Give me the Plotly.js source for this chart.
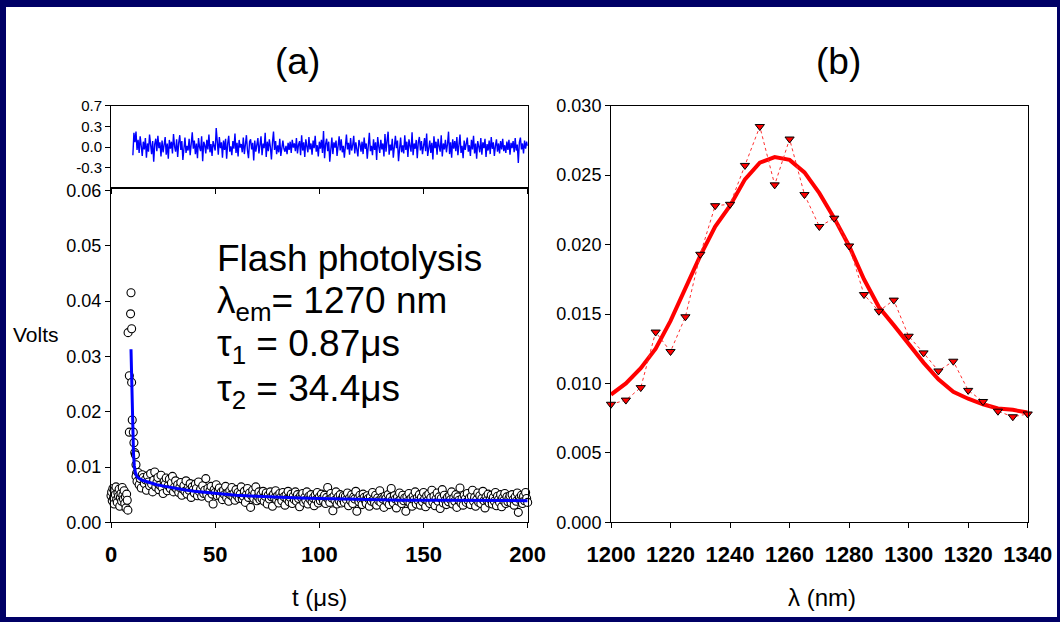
<!DOCTYPE html>
<html>
<head>
<meta charset="utf-8">
<script src="https://cdn.plot.ly/plotly-3.0.1.min.js"></script>
<style>html,body{margin:0;padding:0;background:#000066;}#chart{width:1060px;height:622px;}</style>
</head>
<body>
<div id="chart"></div>
<script>
// ---------- Panel (a): residuals ----------
const residStart = 10.5;   // µs, first residual sample
const residStep = 0.5;     // µs between residual samples
const residuals = [
-0.14,0.24,0.08,0.26,-0.05,0.12,-0.10,0.18,0.02,-0.15,0.09,-0.04,0.15,-0.18,0.06,-0.08,0.21,0.00,-0.12,0.10,
-0.25,0.05,0.14,-0.07,0.19,-0.02,0.08,-0.16,0.11,-0.09,0.03,0.17,-0.13,0.06,-0.20,0.12,-0.03,0.09,-0.11,0.22,
0.01,-0.08,0.13,-0.17,0.07,0.20,-0.05,0.10,-0.22,0.04,0.16,-0.10,0.02,-0.06,0.14,-0.14,0.08,0.25,-0.03,0.11,
-0.12,0.06,-0.19,0.15,0.00,-0.07,0.18,-0.24,0.09,0.03,-0.11,0.12,-0.04,0.21,-0.09,0.05,-0.15,0.10,0.02,-0.06,
0.32,0.04,-0.13,0.17,-0.02,0.08,-0.18,0.11,-0.05,0.14,-0.20,0.06,0.19,-0.08,0.01,-0.14,0.10,-0.03,0.23,-0.10,
0.07,-0.16,0.12,-0.01,0.05,-0.09,0.16,-0.12,0.03,0.20,-0.06,-0.19,0.09,0.13,-0.04,0.07,-0.23,0.11,-0.08,0.04,
0.15,-0.11,0.02,0.18,-0.14,0.06,-0.02,0.24,-0.17,0.09,-0.07,0.13,0.00,-0.21,0.08,0.26,-0.05,0.10,-0.12,0.03,
-0.09,0.14,-0.15,0.05,0.11,-0.03,-0.08,0.02,-0.12,0.07,-0.05,0.09,-0.10,0.12,-0.01,0.06,-0.07,0.15,-0.11,0.04,
0.10,-0.14,0.20,-0.06,0.08,-0.17,0.13,0.01,-0.09,0.17,-0.04,0.06,-0.13,0.11,-0.02,0.19,-0.08,0.03,-0.16,0.09,
-0.03,0.12,-0.10,0.27,-0.19,0.05,0.14,-0.07,0.09,-0.25,0.04,0.16,-0.12,0.08,-0.01,0.11,-0.15,0.07,0.18,-0.06,
0.13,-0.09,0.02,-0.18,0.10,0.21,-0.04,0.07,-0.13,0.15,-0.06,0.03,0.19,-0.11,0.08,-0.02,-0.16,0.12,0.05,-0.08,
0.09,-0.12,0.16,-0.03,0.06,-0.20,0.11,0.24,-0.07,0.02,-0.14,0.13,-0.05,0.08,-0.22,0.17,0.01,-0.10,0.12,-0.04,
0.06,-0.16,0.22,-0.08,0.10,0.26,-0.13,0.04,-0.06,0.14,-0.18,0.07,0.19,-0.02,0.11,-0.24,0.05,0.16,-0.09,0.03,
-0.11,0.20,-0.05,0.09,-0.17,0.13,0.02,-0.08,0.25,-0.14,0.06,-0.03,0.12,-0.19,0.08,0.17,-0.06,0.10,-0.12,0.04,
0.15,-0.07,0.23,-0.15,0.03,0.11,-0.10,0.07,-0.21,0.18,-0.02,0.09,-0.13,0.14,0.01,-0.08,0.20,-0.16,0.06,-0.04,
0.12,-0.09,0.05,0.26,-0.12,0.08,-0.18,0.13,-0.03,0.10,-0.07,0.17,-0.14,0.04,0.21,-0.10,0.02,-0.19,0.11,-0.05,
0.07,0.16,-0.08,0.03,-0.15,0.12,-0.04,0.19,-0.11,0.06,-0.20,0.10,0.01,-0.09,0.15,-0.13,0.08,-0.02,0.14,-0.17,
0.05,-0.06,0.11,-0.12,0.17,-0.03,0.08,-0.15,0.02,0.13,-0.08,0.06,-0.11,0.10,-0.04,0.14,-0.07,0.03,-0.10,0.09,
-0.05,0.12,-0.13,0.07,-0.02,0.10,-0.09,0.15,-0.06,0.04,-0.27,0.08,0.16,-0.04,0.06,-0.11,0.11,-0.03,0.09,0.02
];

// ---------- Panel (a): decay data (Volts) ----------
const preT = [0.0,0.3,0.6,0.9,1.2,1.5,1.8,2.1,2.4,2.7,3.0,3.3,3.6,3.9,4.2,4.5,4.8,5.1,5.4,5.7,6.0,6.3,6.6,6.9,7.2,7.5,7.8,8.1];
const preV = [0.0048,0.0055,0.0039,0.0061,0.0044,0.0033,0.0058,0.0050,0.0064,0.0041,0.0036,0.0053,0.0047,0.0060,0.0029,0.0045,0.0052,0.0038,0.0063,0.0049,0.0042,0.0057,0.0034,0.0046,0.0026,0.0051,0.0040,0.0022];
const spikeT = [8.2,8.8,8.8,9.4,9.6,9.9,9.9,10.2,10.7,11.0,11.4,11.7,12.0,12.3];
const spikeV = [0.0343,0.0265,0.0163,0.0377,0.0415,0.0350,0.0253,0.0185,0.0163,0.0144,0.0126,0.0122,0.0104,0.0089];
const tailStart = 12.0;  // µs
const tailStep = 0.5;    // µs
const tailV = [
0.0083,0.0074,0.0090,0.0068,0.0079,0.0062,0.0086,0.0081,0.0070,0.0077,0.0058,0.0084,0.0073,0.0066,0.0088,0.0069,0.0055,0.0076,0.0091,0.0064,
0.0072,0.0081,0.0059,0.0067,0.0085,0.0063,0.0052,0.0074,0.0069,0.0080,0.0057,0.0066,0.0078,0.0061,0.0071,0.0083,0.0055,0.0064,0.0075,0.0060,
0.0068,0.0054,0.0063,0.0072,0.0049,0.0060,0.0066,0.0056,0.0075,0.0051,0.0062,0.0058,0.0070,0.0045,0.0064,0.0059,0.0053,0.0069,0.0061,0.0048,
0.0073,0.0055,0.0060,0.0047,0.0066,0.0052,0.0058,0.0079,0.0050,0.0061,0.0044,0.0057,0.0065,0.0051,0.0033,0.0059,0.0054,0.0068,0.0048,0.0056,
0.0062,0.0047,0.0055,0.0041,0.0058,0.0050,0.0065,0.0044,0.0053,0.0038,0.0057,0.0049,0.0063,0.0046,0.0052,0.0040,0.0059,0.0048,0.0054,0.0043,
0.0051,0.0064,0.0042,0.0047,0.0056,0.0036,0.0050,0.0061,0.0045,0.0053,0.0027,0.0048,0.0058,0.0043,0.0052,0.0064,0.0039,0.0046,0.0055,0.0041,
0.0050,0.0043,0.0056,0.0038,0.0047,0.0053,0.0033,0.0049,0.0042,0.0055,0.0046,0.0029,0.0051,0.0044,0.0057,0.0040,0.0048,0.0035,0.0052,0.0045,
0.0039,0.0054,0.0046,0.0031,0.0049,0.0042,0.0056,0.0037,0.0045,0.0051,0.0034,0.0047,0.0041,0.0055,0.0038,0.0050,0.0043,0.0028,0.0048,0.0044,
0.0052,0.0036,0.0045,0.0040,0.0055,0.0033,0.0047,0.0042,0.0050,0.0037,0.0044,0.0030,0.0049,0.0041,0.0054,0.0035,0.0046,0.0039,0.0051,0.0043,
0.0038,0.0049,0.0034,0.0045,0.0063,0.0041,0.0036,0.0052,0.0044,0.0021,0.0047,0.0040,0.0055,0.0033,0.0046,0.0039,0.0050,0.0035,0.0043,0.0048,
0.0036,0.0047,0.0041,0.0053,0.0030,0.0044,0.0039,0.0050,0.0034,0.0046,0.0042,0.0056,0.0020,0.0043,0.0037,0.0049,0.0041,0.0032,0.0051,0.0045,
0.0040,0.0034,0.0048,0.0043,0.0029,0.0046,0.0038,0.0054,0.0041,0.0035,0.0049,0.0031,0.0044,0.0039,0.0057,0.0036,0.0045,0.0042,0.0027,0.0047,
0.0043,0.0037,0.0050,0.0032,0.0045,0.0061,0.0040,0.0035,0.0048,0.0042,0.0026,0.0046,0.0038,0.0053,0.0041,0.0034,0.0049,0.0039,0.0044,0.0020,
0.0046,0.0038,0.0052,0.0035,0.0043,0.0029,0.0047,0.0041,0.0055,0.0033,0.0044,0.0039,0.0050,0.0031,0.0045,0.0037,0.0054,0.0042,0.0028,0.0048,
0.0039,0.0051,0.0034,0.0044,0.0058,0.0036,0.0047,0.0030,0.0042,0.0053,0.0038,0.0046,0.0025,0.0043,0.0059,0.0035,0.0049,0.0040,0.0032,0.0045,
0.0037,0.0048,0.0041,0.0055,0.0033,0.0044,0.0038,0.0050,0.0027,0.0046,0.0040,0.0062,0.0035,0.0043,0.0031,0.0049,0.0042,0.0036,0.0052,0.0039,
0.0044,0.0032,0.0047,0.0058,0.0038,0.0045,0.0029,0.0041,0.0053,0.0036,0.0048,0.0034,0.0043,0.0056,0.0039,0.0026,0.0046,0.0040,0.0051,0.0035,
0.0042,0.0049,0.0033,0.0045,0.0038,0.0054,0.0030,0.0047,0.0041,0.0036,0.0050,0.0028,0.0044,0.0039,0.0052,0.0034,0.0046,0.0037,0.0043,0.0048,
0.0035,0.0050,0.0041,0.0031,0.0046,0.0038,0.0053,0.0018,0.0044,0.0040,0.0049,0.0034,0.0047,0.0039,0.0054,0.0043,0.0036
];
// biexponential fit
const fitT = [9.6,9.8,10.0,10.2,10.5,10.8,11.2,11.7,12.4,13.2,15,18,22,26,30,35,40,50,60,70,80,90,100,120,140,160,180,200];
const fitV = [0.0313,0.0268,0.0226,0.0190,0.0150,0.0124,0.0102,0.0090,0.0083,0.0080,0.0076,0.0072,0.0068,0.0065,0.0062,0.0059,0.0056,0.0052,0.0049,0.0047,0.0045,0.0044,0.0043,0.0041,0.0040,0.0040,0.0039,0.0039];

// ---------- Panel (b): emission spectrum ----------
const lambda = [1200,1205,1210,1215,1220,1225,1230,1235,1240,1245,1250,1255,1260,1265,1270,1275,1280,1285,1290,1295,1300,1305,1310,1315,1320,1325,1330,1335,1340];
const specV = [0.0085,0.0088,0.0097,0.0137,0.0123,0.0148,0.0193,0.0228,0.0229,0.0257,0.0285,0.0243,0.0276,0.0236,0.0213,0.0219,0.0199,0.0164,0.0152,0.0160,0.0134,0.0122,0.0109,0.0116,0.0095,0.0087,0.0080,0.0076,0.0078];
const specFit = [0.0092,0.0100,0.0111,0.0125,0.0145,0.0168,0.0192,0.0213,0.0228,0.0247,0.0259,0.0263,0.0261,0.0252,0.0237,0.0219,0.0199,0.0175,0.0155,0.0142,0.0128,0.0115,0.0103,0.0094,0.0089,0.0085,0.0082,0.0081,0.0079];

// tick labels
const residTickVals = [0.7,0.35,0,-0.35];
const residTickText = ['0.7','0.3','0.0','-0.3'];
const decayTickVals = [0,0.01,0.02,0.03,0.04,0.05,0.06];
const timeTickVals = [0,50,100,150,200];

// ---------- build ----------
const residT = residuals.map((_, i) => residStart + i * residStep);
const tailT = tailV.map((_, i) => tailStart + i * tailStep);
const dataT = preT.concat(spikeT, tailT);
const dataV = preV.concat(spikeV, tailV);

const FONT = 'Arial, "Liberation Sans", sans-serif';
const W = 1060, H = 622;
const px = v => v / W;
const py = v => 1 - v / H;

const traces = [
  {x: residT, y: residuals, xaxis: 'x', yaxis: 'y', type: 'scatter', mode: 'lines',
   line: {color: '#0000ff', width: 1.4}, hoverinfo: 'skip'},
  {x: dataT, y: dataV, xaxis: 'x2', yaxis: 'y2', type: 'scatter', mode: 'markers', cliponaxis: false,
   marker: {symbol: 'circle', size: 8, color: '#ffffff', line: {color: '#000000', width: 1.1}}},
  {x: fitT, y: fitV, xaxis: 'x2', yaxis: 'y2', type: 'scatter', mode: 'lines',
   line: {color: '#0000ff', width: 3}},
  {x: lambda, y: specFit, xaxis: 'x3', yaxis: 'y3', type: 'scatter', mode: 'lines',
   line: {color: '#ff0000', width: 4}},
  {x: lambda, y: specV, xaxis: 'x3', yaxis: 'y3', type: 'scatter', mode: 'lines+markers', cliponaxis: false,
   line: {color: '#ff3030', width: 1, dash: 'dot'},
   marker: {symbol: 'triangle-down', size: 8, color: '#ff0000', line: {color: '#000000', width: 1}}}
];

const axBase = {showgrid: false, zeroline: false, showline: true, linecolor: '#000', linewidth: 1,
  mirror: true, ticks: 'outside', ticklen: 5, tickcolor: '#000', tickwidth: 1};
const aLeft = [px(111), px(527.7)];
const bX = [px(611), px(1027.7)];

const layout = {
  width: W, height: H,
  margin: {l: 0, r: 0, t: 0, b: 0},
  paper_bgcolor: '#000066', plot_bgcolor: '#ffffff',
  showlegend: false,
  font: {family: FONT, color: '#000'},
  xaxis: Object.assign({}, axBase, {domain: aLeft, anchor: 'y', range: [0, 200],
    tickvals: timeTickVals, showticklabels: false}),
  yaxis: Object.assign({}, axBase, {domain: [py(188.3), py(105.7)], anchor: 'x', range: [-0.7, 0.7],
    tickvals: residTickVals, ticktext: residTickText, tickfont: {size: 15, family: FONT}}),
  xaxis2: Object.assign({}, axBase, {domain: aLeft, anchor: 'y2', range: [0, 200],
    tickvals: timeTickVals, ticklabelstandoff: 7, tickfont: {size: 22, family: FONT, weight: 'bold'}}),
  yaxis2: Object.assign({}, axBase, {domain: [py(522.3), py(188.3)], anchor: 'x2', range: [0, 0.0604],
    tickvals: decayTickVals, tickformat: '.2f', tickfont: {size: 18, family: FONT}}),
  xaxis3: Object.assign({}, axBase, {domain: bX, anchor: 'y3', range: [1200, 1340],
    tick0: 1200, dtick: 20, ticklabelstandoff: 7, tickfont: {size: 22, family: FONT, weight: 'bold'}}),
  yaxis3: Object.assign({}, axBase, {domain: [py(522.3), py(105.7)], anchor: 'x3', range: [0, 0.030],
    tick0: 0, dtick: 0.005, tickformat: '.3f', tickfont: {size: 18, family: FONT}}),
  shapes: [
    {type: 'rect', xref: 'paper', yref: 'paper', x0: px(6), x1: px(1057), y0: py(617), y1: py(7),
     fillcolor: '#ffffff', line: {width: 0}, layer: 'below'}
  ],
  annotations: [
    {text: '(a)', x: px(297), y: py(61), xref: 'paper', yref: 'paper', showarrow: false,
     xanchor: 'center', yanchor: 'middle', font: {size: 37, family: FONT}},
    {text: '(b)', x: px(838), y: py(61), xref: 'paper', yref: 'paper', showarrow: false,
     xanchor: 'center', yanchor: 'middle', font: {size: 37, family: FONT}},
    {text: 'Volts', x: px(11), y: py(335), xref: 'paper', yref: 'paper', showarrow: false,
     xanchor: 'left', yanchor: 'middle', font: {size: 21, family: FONT}},
    {text: 't (μs)', x: px(319), y: py(597), xref: 'paper', yref: 'paper', showarrow: false,
     xanchor: 'center', yanchor: 'middle', font: {size: 24, family: FONT}},
    {text: 'λ (nm)', x: px(822), y: py(597), xref: 'paper', yref: 'paper', showarrow: false,
     xanchor: 'center', yanchor: 'middle', font: {size: 24, family: FONT}},
    {text: 'Flash photolysis', x: px(215), y: py(258), xref: 'paper', yref: 'paper', showarrow: false,
     xanchor: 'left', yanchor: 'middle', font: {size: 37, family: FONT}},
    {text: 'λ<sub>em</sub>= 1270 nm', x: px(215), y: py(303), xref: 'paper', yref: 'paper', showarrow: false,
     xanchor: 'left', yanchor: 'middle', font: {size: 37, family: FONT}},
    {text: 'τ<sub>1</sub> = 0.87μs', x: px(215), y: py(346), xref: 'paper', yref: 'paper', showarrow: false,
     xanchor: 'left', yanchor: 'middle', font: {size: 37, family: FONT}},
    {text: 'τ<sub>2</sub> = 34.4μs', x: px(215), y: py(391), xref: 'paper', yref: 'paper', showarrow: false,
     xanchor: 'left', yanchor: 'middle', font: {size: 37, family: FONT}}
  ]
};

Plotly.newPlot('chart', traces, layout, {staticPlot: true, displayModeBar: false});
</script>
</body>
</html>
